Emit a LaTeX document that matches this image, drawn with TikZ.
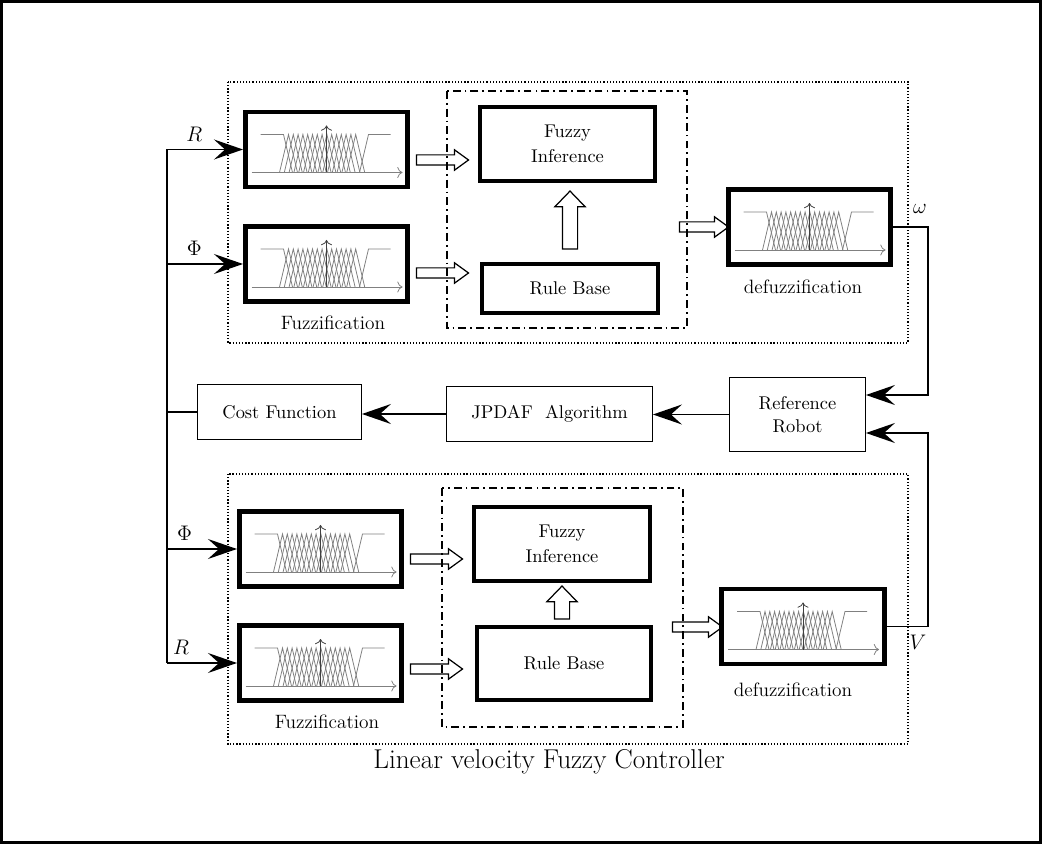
\documentclass[tikz,border=0pt]{standalone}
\usepackage{amsmath, amssymb}
\usetikzlibrary{arrows.meta, shapes.arrows}
\tikzset{
fzbox/.style={draw, line width=2.6pt, minimum width=3.25cm, minimum height=1.5cm},
inbox/.style={draw, line width=2.1pt, font=\boxfont, align=center},
thinbox/.style={draw, line width=0.8pt, font=\boxfont, align=center},
hollow/.style={single arrow, draw, line width=0.7pt, inner sep=0pt, inner ysep=0.09cm,
  minimum width=0pt, single arrow head extend=0.1cm, single arrow tip angle=72,
  minimum height=1.04cm},
bighollow/.style={hollow, inner ysep=0.14cm, single arrow head extend=0.15cm,
  single arrow tip angle=88, rotate=90},
arr/.style={line width=0.9pt, -{Stealth[length=0.58cm, width=0.4cm, inset=0.22cm]}},
wire/.style={line width=0.9pt},
lbl/.style={font=\lblfont},
sig/.style={font=\large},
mfline/.style={gray, line width=0.45pt},
grpbox/.style={line width=0.9pt, dash pattern=on 0.7pt off 1.1pt},
dashdot/.style={line width=1.1pt, dash pattern=on 4.5pt off 2.3pt on 1pt off 2.3pt},
}
\newcommand{\boxfont}{\fontsize{10.5}{13}\selectfont}
\newcommand{\lblfont}{\fontsize{11}{13}\selectfont}
% membership functions drawn inside a box
\newcommand{\mficon}[1]{%
  \begin{scope}[shift={(#1.center)}]
    \draw[mfline, -{To[length=3pt]}] (-75,23) -- (76,23);
    \draw[mfline] (-66,-15) -- (-43,-15) -- (-34,23);
    \draw[mfline] (33,23) -- (42,-15) -- (64,-15);
    \foreach \p in {-38,-33.2,...,33} \draw[mfline] (\p-9,23) -- (\p,-15) -- (\p+9,23);
    \draw[mfline, black!75, -{To[length=3pt]}] (0,23) -- (0,-24);
  \end{scope}}

\begin{document}
\begin{tikzpicture}[x=0.02cm, y=-0.02cm]
\useasboundingbox (0,0) rectangle (1042,844);
\draw[line width=1.7pt] (1.5,1.5) rectangle (1040.5,842.5);

    % angular velocity controller
    \node[fzbox] (fzR1) at (326.5,149.5) {};
    \node[fzbox] (fzP1) at (326.5,264) {};
    \node[inbox, minimum width=3.5cm, minimum height=1.48cm] (inf1) at (567.5,144) {Fuzzy\\[1pt]Inference};
    \node[inbox, minimum width=3.52cm, minimum height=0.99cm] (rb1) at (570,288.5) {Rule Base};
    \node[fzbox] (df1) at (809.5,227) {};
    \node[lbl] (fz1) at (333,323) {Fuzzification};
    \node[lbl] (dfz1) at (803,287) {defuzzification};

    % linear velocity controller
    \node[fzbox] (fzP2) at (320.5,549) {};
    \node[fzbox] (fzR2) at (320.5,663) {};
    \node[inbox, minimum width=3.52cm, minimum height=1.48cm] (inf2) at (562,544) {Fuzzy\\[1pt]Inference};
    \node[inbox, minimum width=3.48cm, minimum height=1.46cm] (rb2) at (564,663.5) {Rule Base};
    \node[fzbox] (df2) at (803,626.5) {};
    \node[lbl] (fz2) at (327,722) {Fuzzification};
    \node[lbl] (dfz2) at (793,690) {defuzzification};
    \node[font=\fontsize{15.5}{18}\selectfont] (title2) at (549,762) {Linear velocity Fuzzy Controller};

    % middle row
    \node[thinbox, minimum width=3.27cm, minimum height=1.09cm] (cost) at (279.5,412) {Cost Function};
    \node[thinbox, minimum width=4.11cm, minimum height=1.09cm] (jpdaf) at (549.5,414) {JPDAF~~Algorithm};
    \node[thinbox, minimum width=2.71cm, minimum height=1.47cm] (robot) at (797.5,414.5) {Reference\\Robot};

    \foreach \b in {fzR1, fzP1, df1, fzP2, fzR2, df2} \mficon{\b};

    % block arrows
    \node[hollow] (h1) at (439,160) {};
    \node[hollow] (h2) at (439,273) {};
    \node[bighollow, minimum height=1.16cm] (h3) at (570,224) {};
    \node[hollow, minimum height=0.98cm] (h4) at (700.5,227) {};
    \node[hollow] (h5) at (433,559) {};
    \node[hollow] (h6) at (433,669) {};
    \node[bighollow, minimum height=0.66cm] (h7) at (562,606.5) {};
    \node[hollow, minimum height=1cm] (h8) at (694,627) {};

    % feedback wiring
    \coordinate (bus) at (167,400);
    \coordinate (rx) at (928,400);
    \draw[wire] (fzR1.west -| bus) -- (fzR2.west -| bus);
    \draw[wire] (cost.west) -- (cost.west -| bus);
    \draw[arr] (fzR1.west -| bus) -- node[sig, pos=0.36, above=1pt]{$R$} (fzR1.west);
    \draw[arr] (fzP1.west -| bus) -- node[sig, pos=0.36, above=1pt]{$\Phi$} (fzP1.west);
    \draw[arr] (fzP2.west -| bus) -- node[sig, pos=0.25, above=1pt]{$\Phi$} (fzP2.west);
    \draw[arr] (fzR2.west -| bus) -- node[sig, pos=0.2, above=1pt]{$R$} (fzR2.west);
    \draw[arr] (jpdaf.west) -- (jpdaf.west -| cost.east);
    \draw[arr] (robot.west) -- (robot.west -| jpdaf.east);
    \draw[arr] (df1.east) -- (df1.east -| rx) |- ([yshift=0.39cm]robot.east);
    \draw[arr] (df2.east) -- (df2.east -| rx) |- ([yshift=-0.37cm]robot.east);
    \node[sig] (w) at (920,209) {$\omega$};
    \node[sig] (v) at (918,642) {$V$};

    % controller frames
    \draw[grpbox] (228,82) rectangle (908,343);
    \draw[dashdot] (447,91) rectangle (687,328);
    \draw[grpbox] (228,474) rectangle (908,744);
    \draw[dashdot] (442,488) rectangle (683,727);
\end{tikzpicture}
\end{document}
